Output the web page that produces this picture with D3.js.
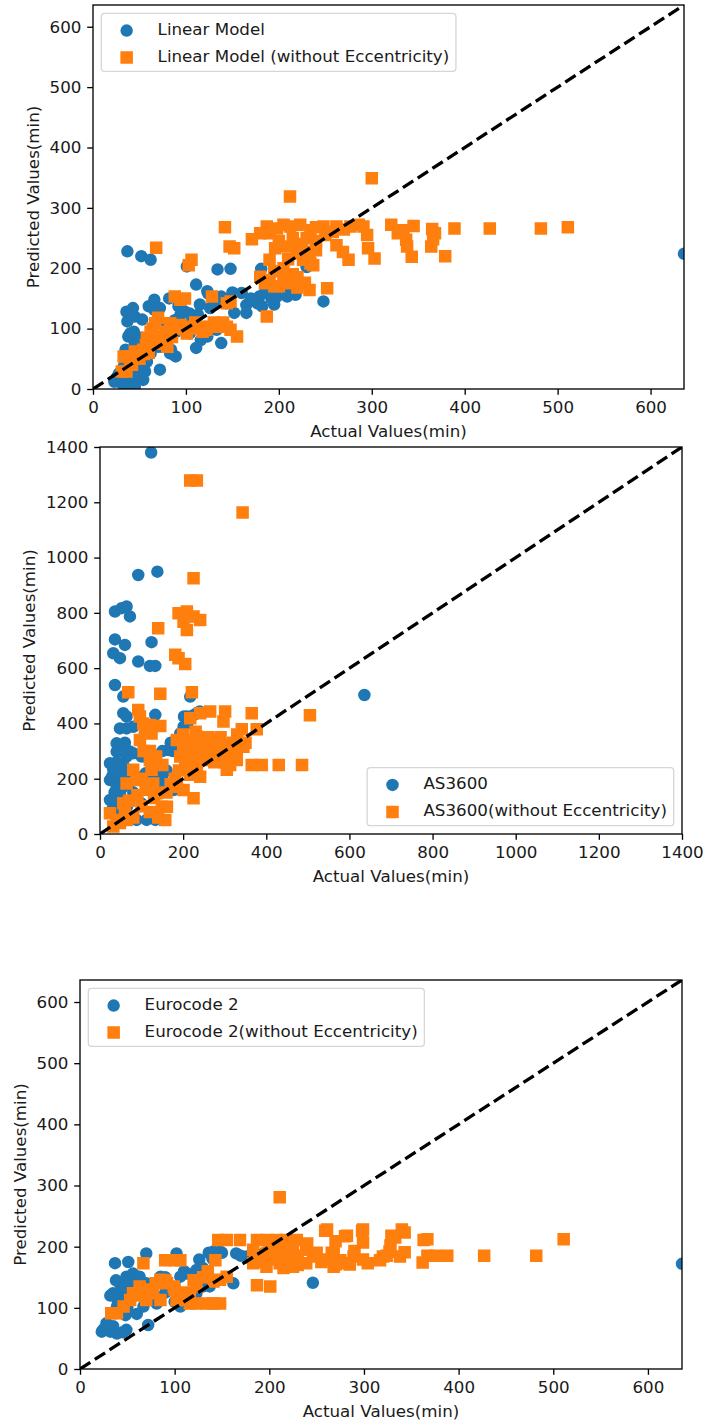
<!DOCTYPE html>
<meta charset="utf-8">
<style>
body { margin: 0; background: #fff; }
svg { display: block; }
text { font-family: "DejaVu Sans", sans-serif; fill: #1a1a1a; }
</style>
<svg width="707" height="1426"></svg>
<script src="https://cdn.jsdelivr.net/npm/d3@7"></script>
<script>

// [actual, predicted] pairs, minutes
var linearModel = [
  [37,228],[52,220],[62,214],[101,203],[111,173],[134,198],[148,199],[181,199],[230,203],
  [123,162],[138,153],[145,145],[160,159],[165,139],[165,126],[179,153],[177,142],[182,137],
  [196,151],[209,153],[218,156],[248,145],[66,148],[66,131],[60,137],[124,158],[140,150],[144,142],
  [37,112],[36,128],[43,134],[45,120],[53,115],[38,87],[40,92],[45,76],[50,70],
  [70,70],[62,59],[72,32],[84,65],[89,54],[99,128],[109,120],[113,123],[126,134],
  [104,92],[116,81],[123,87],[138,76],[111,68],[133,98],[94,136],[104,125],[88,114],
  [23,12],[31,9],[40,15],[50,20],[36,4],[45,4],[28,26],[33,37],[38,48],[50,40],[55,32],[26,20],
  [82,150],[92,137],[94,123],[152,126],[72,134],[83,59],[74,70],[43,37],[56,29],[54,15],[60,59],
  [192,150],[198,153],[230,202],
  [30,20],[42,25],[48,55],[58,45],[35,65],[44,95],[52,85],[65,80],[78,105],[90,95],
  [105,110],[115,140],[130,140],[150,160],[170,150],[185,160],[195,140],[210,160],[636,224]
];
var linearModelNoEcc = [
  [300,349],[212,319],[142,268],[68,234],[106,214],[103,205],[147,236],[152,233],[171,248],
  [187,269],[198,266],[205,272],[212,269],[223,272],[234,263],[240,268],[248,269],[262,269],
  [270,264],[277,269],[286,272],[291,269],[295,255],[180,258],[190,258],
  [196,233],[208,236],[219,225],[230,227],[234,208],[226,214],[190,214],[200,245],[215,250],[225,240],
  [262,238],[269,227],[275,214],[296,233],[303,216],[321,272],[328,258],[334,263],[337,247],
  [338,236],[343,219],[345,270],[365,265],[368,258],[366,248],[364,236],[379,220],
  [389,266],[427,266],[482,266],[511,268],
  [180,186],[190,180],[200,170],[210,175],[220,168],[228,176],[233,164],[205,185],[215,190],
  [195,195],[252,167],[187,120],[233,220],[240,245],[237,205],
  [205,200],[210,215],[220,230],[230,250],[240,230],[250,255],[258,260],[195,170],[185,175],[220,185],
  [88,153],[94,148],[99,150],[128,153],[144,142],[148,145],
  [83,109],[94,106],[104,103],[115,103],[126,103],[135,103],[144,103],[155,87],[148,98],
  [122,98],[101,92],[85,86],[110,110],[130,110],[118,95],[90,100],[100,98],[112,100],[140,110],
  [67,109],[67,87],[61,76],[54,65],[47,59],[38,54],[33,54],[36,29],[31,29],[45,62],
  [57,73],[62,95],[70,118],[64,100],[50,50],[42,40],[58,85],[75,80],[80,70],
  [60,60],[70,75],[78,95],[40,45],[55,58]
];

var as3600 = [
  [123,1380],[92,937],[138,949],[36,805],[52,817],[64,823],[72,787],
  [36,704],[32,654],[48,636],[60,684],[124,694],[92,624],[120,608],[133,608],
  [36,539],[56,497],[217,497],[56,437],[64,425],[233,437],[133,431],
  [48,382],[64,382],[80,388],[40,328],[56,322],[72,298],[80,292],[40,298],
  [24,256],[32,232],[48,220],[24,195],[40,171],[24,123],[48,147],[96,195],[116,195],
  [137,213],[161,171],[177,159],[88,51],[112,51],[133,51],
  [165,304],[181,322],[193,364],[201,388],[209,425],[240,443],[202,425],[181,171],
  [40,260],[56,250],[64,280],[100,280],[150,300],[170,330],[30,120],[60,120],
  [80,150],[100,110],[70,60],[36,90],[52,200],[120,260],[140,180],
  [44,310],[60,330],[50,300],[30,210],[45,240],[60,200],[70,230],[35,150],[55,170],
  [75,190],[85,210],[50,130],[65,100],[40,60],[30,90],[110,220],[130,190],[150,210],
  [160,230],[175,300],[190,340],[210,400],[225,430],[636,503]
];
var as3600NoEcc = [
  [217,1279],[233,1279],[343,1163],[225,925],[140,744],
  [189,799],[209,805],[225,787],[241,774],[201,768],[209,738],
  [181,648],[189,636],[205,615],[68,513],[145,507],[221,513],
  [92,449],[96,425],[104,400],[120,394],[145,391],[96,340],[108,376],[124,364],
  [217,419],[241,437],[265,443],[301,443],[297,407],[365,437],[341,379],[377,379],[505,430],
  [185,340],[201,316],[217,340],[233,352],[249,340],[265,328],[281,340],[297,316],
  [193,280],[217,268],[241,292],[257,268],[209,244],[233,250],[281,280],[313,280],
  [329,304],[345,316],[365,250],[389,250],[430,250],[486,250],
  [305,232],[313,250],[329,268],[217,214],[241,207],[225,129],
  [80,232],[124,232],[88,195],[128,183],[137,147],[64,183],
  [149,99],[161,99],[157,51],[24,75],[40,51],[64,51],[32,27],[56,111],
  [185,171],[201,159],[120,268],[133,256],
  [200,300],[210,330],[225,320],[240,310],[255,300],[270,330],[285,310],[200,360],
  [230,370],[260,350],[290,350],[215,280],[245,270],[275,260],[300,300],[320,330],
  [330,360],[300,260],[350,330],[205,250],[190,230],[180,200],[170,180],[160,150],
  [60,90],[70,120],[90,140],[110,160],[130,130],[100,100],[80,60],[120,80],[140,60],
  [48,40],[105,300],[120,300],[135,280],[150,250],[100,200]
];

var eurocode2 = [
  [37,173],[51,175],[70,189],[102,189],[141,192],[148,192],[165,189],[194,189],[246,141],
  [23,61],[32,61],[39,58],[49,64],[72,72],[28,75],
  [35,124],[42,140],[49,151],[56,156],[63,151],[39,102],[49,91],[46,113],
  [85,151],[95,135],[106,151],[113,156],[123,162],[134,151],[137,135],[116,113],[106,102],
  [162,140],[176,184],[126,179],[136,190],[123,124],[130,135],[74,113],[81,107],[67,102],
  [44,120],[58,130],[90,125],[100,110],
  [38,145],[45,130],[52,140],[60,145],[40,110],[50,100],[55,120],[65,125],[70,140],[32,120],
  [48,88],[60,90],[25,65],[35,70],[45,60],[80,140],[90,150],[110,160],[120,150],[130,165],
  [140,180],[150,190],[170,185],[180,180],[200,195],[215,180],[636,172]
];
var eurocode2NoEcc = [
  [211,281],[146,211],[155,211],[169,211],[187,211],[197,211],[208,211],[218,211],[229,211],
  [259,226],[298,226],[340,228],[363,211],[329,218],[282,218],
  [482,185],[511,212],[427,185],[388,185],[376,185],[367,185],[367,212],[362,174],
  [343,223],[333,215],[328,202],[343,191],[324,185],
  [299,228],[299,207],[290,193],[299,179],[304,173],[285,171],
  [261,228],[270,209],[280,217],[266,190],[270,171],[261,179],
  [183,195],[197,189],[211,195],[225,195],[239,195],[183,173],[197,167],[211,173],[225,167],
  [239,173],[246,184],[218,184],[204,179],[190,184],
  [268,189],[275,178],[268,167],[282,173],[289,184],
  [320,184],[327,192],[338,184],[317,178],[187,137],[201,135],
  [67,173],[90,178],[100,178],[106,178],[143,178],
  [141,107],[148,107],[134,107],[123,107],[116,107],[155,151],[148,146],[141,143],
  [85,146],[92,140],[99,135],[106,124],[113,113],
  [63,135],[56,124],[53,113],[46,102],[39,91],[33,91],
  [123,135],[116,124],[109,118],[102,113],[77,124],[70,113],[85,113],
  [60,120],[70,130],[80,140],[90,145],[100,130],[110,125],[120,145],[130,150],[135,160],
  [200,200],[210,190],[220,200],[230,185],[240,205],[250,190],[255,175],[230,170],
  [215,165],[195,175],[185,180]
];

var ticks600 = [0, 100, 200, 300, 400, 500, 600];
var ticks1400 = [0, 200, 400, 600, 800, 1000, 1200, 1400];
var legendLinear = ["Linear Model", "Linear Model (without Eccentricity)"];
var legendAS = ["AS3600", "AS3600(without Eccentricity)"];
var legendEC = ["Eurocode 2", "Eurocode 2(without Eccentricity)"];
var xTitle = "Actual Values(min)";
var yTitle = "Predicted Values(min)";

var blue = "#1f77b4", orange = "#ff7f0e";
var FS = 16.7;

var panels = [
  {a: linearModel, b: linearModelNoEcc, max: 636, ticks: ticks600, names: legendLinear,
   left: 93, right: 684, top: 5, bottom: 389, loc: "upper left"},
  {a: as3600, b: as3600NoEcc, max: 1400, ticks: ticks1400, names: legendAS,
   left: 100, right: 682, top: 447, bottom: 834, loc: "lower right"},
  {a: eurocode2, b: eurocode2NoEcc, max: 636, ticks: ticks600, names: legendEC,
   left: 80, right: 682, top: 980, bottom: 1369, loc: "upper left"}
];

var svg = d3.select("svg");
var sq = d3.symbol().type(d3.symbolSquare).size(100);
var fmt = d3.format("d");

panels.forEach(function(p, i) {
  var x = d3.scaleLinear().domain([0, p.max]).range([p.left, p.right]);
  var y = d3.scaleLinear().domain([0, p.max]).range([p.bottom, p.top]);
  var g = svg.append("g");

  g.append("clipPath").attr("id", "clip" + i)
    .append("rect")
      .attr("x", p.left).attr("y", p.top)
      .attr("width", p.right - p.left).attr("height", p.bottom - p.top);

  var plot = g.append("g").attr("clip-path", "url(#clip" + i + ")");

  plot.selectAll("circle").data(p.a).enter().append("circle")
      .attr("cx", function(d) { return x(d[0]); })
      .attr("cy", function(d) { return y(d[1]); })
      .attr("r", 5)
      .attr("fill", blue).attr("stroke", blue).attr("stroke-width", 2.5);

  plot.selectAll("path.sq").data(p.b).enter().append("path")
      .attr("class", "sq")
      .attr("d", sq)
      .attr("transform", function(d) { return "translate(" + x(d[0]) + "," + y(d[1]) + ")"; })
      .attr("fill", orange).attr("stroke", orange).attr("stroke-width", 2.5)
      .attr("stroke-linejoin", "miter");

  plot.append("line")
      .attr("x1", x(0)).attr("y1", y(0))
      .attr("x2", x(p.max)).attr("y2", y(p.max))
      .attr("stroke", "#000").attr("stroke-width", 3.3)
      .attr("stroke-dasharray", "12.3,5.3");

  var xa = g.append("g").attr("transform", "translate(0," + p.bottom + ")")
      .call(d3.axisBottom(x).tickValues(p.ticks).tickFormat(fmt)
        .tickSize(5.8).tickPadding(5.8).tickSizeOuter(0));
  var ya = g.append("g").attr("transform", "translate(" + p.left + ",0)")
      .call(d3.axisLeft(y).tickValues(p.ticks).tickFormat(fmt)
        .tickSize(5.8).tickPadding(5.8).tickSizeOuter(0));
  [xa, ya].forEach(function(a) {
    a.select(".domain").remove();
    a.selectAll(".tick line").attr("stroke", "#000").attr("stroke-width", 1.33);
    a.selectAll(".tick text").attr("font-size", FS).attr("font-family", null).attr("fill", null);
    a.attr("font-family", null);
  });
  xa.selectAll(".tick text").attr("dy", "0.76em");

  g.append("rect")
      .attr("x", p.left).attr("y", p.top)
      .attr("width", p.right - p.left).attr("height", p.bottom - p.top)
      .attr("fill", "none").attr("stroke", "#000").attr("stroke-width", 1.33);

  g.append("text")
      .attr("x", (p.left + p.right) / 2).attr("y", p.bottom + 48)
      .attr("text-anchor", "middle").attr("font-size", FS)
      .text(xTitle);

  var tw = d3.max(ya.selectAll(".tick text").nodes(), function(n) { return n.getComputedTextLength(); });
  var xb = p.left - 11.6 - tw - 6.7 - 4;
  g.append("text")
      .attr("transform", "translate(" + xb + "," + (p.top + p.bottom) / 2 + ") rotate(-90)")
      .attr("text-anchor", "middle").attr("font-size", FS)
      .text(yTitle);

  // legend
  var lg = g.append("g");
  var labels = lg.selectAll("text").data(p.names).enter().append("text")
      .attr("font-size", FS)
      .text(function(d) { return d; });
  var lw = d3.max(labels.nodes(), function(n) { return n.getComputedTextLength(); });
  var pad = 6.7, handle = 33.3, gap = 13.3, rowH = 18.2, spacing = 8.3;
  var bw = pad + handle + gap + lw + pad + 3;
  var bh = pad * 2 + rowH * 2 + spacing;
  var bx = p.loc === "upper left" ? p.left + 8.3 : p.right - 8.3 - bw;
  var by = p.loc === "upper left" ? p.top + 8.3 : p.bottom - 8.3 - bh;
  lg.insert("rect", "text")
      .attr("x", bx).attr("y", by).attr("width", bw).attr("height", bh)
      .attr("rx", 3.3)
      .attr("fill", "#fff").attr("fill-opacity", 0.8)
      .attr("stroke", "#d6d6d6").attr("stroke-width", 1.3);
  var rowY = function(k) { return by + pad + rowH / 2 + k * (rowH + spacing); };
  labels.attr("x", bx + pad + handle + gap + 3).attr("y", function(d, k) { return rowY(k); })
      .attr("dy", "0.36em");
  var mx = bx + pad + handle / 2 + 2;
  lg.append("circle")
      .attr("cx", mx).attr("cy", rowY(0) + 1.5).attr("r", 5)
      .attr("fill", blue).attr("stroke", blue).attr("stroke-width", 2.5);
  lg.append("path").attr("d", sq)
      .attr("transform", "translate(" + mx + "," + (rowY(1) + 2) + ")")
      .attr("fill", orange).attr("stroke", orange).attr("stroke-width", 2.5);
});

</script>
